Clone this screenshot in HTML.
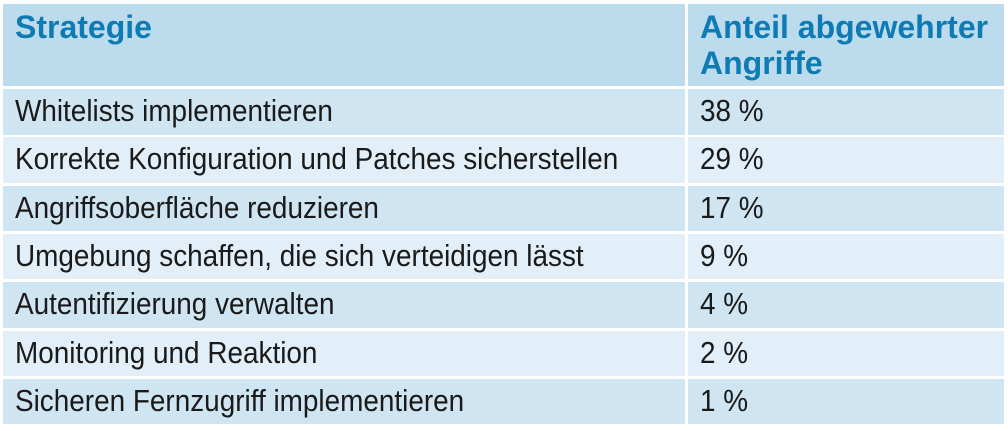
<!DOCTYPE html>
<html><head><meta charset="utf-8"><style>
body{margin:0;width:1008px;height:431px;background:#fff;position:relative;overflow:hidden;font-family:"Liberation Sans",sans-serif;}
.c{position:absolute;box-sizing:border-box;height:45.5px;}
.l{left:3px;width:682px;}
.r{left:688px;width:316px;}
.a{background:#cfe5f2}.b{background:#e2eff8}
.t{position:absolute;left:12px;top:4px;white-space:nowrap;font-size:31px;color:#1a1a1a;transform:scaleX(0.9);transform-origin:left center;}
.h{color:#0f7bb4;font-weight:bold;font-size:32px;line-height:36px;top:5px;transform:none;}
</style></head><body>
<div class="c l" style="top:4px;height:82px;background:#bcdcee"><div class="t h">Strategie</div></div>
<div class="c r" style="top:4px;height:82px;background:#bcdcee"><div class="t h">Anteil abgewehrter<br>Angriffe</div></div>

<div class="c l a" style="top:89px"><div class="t">Whitelists implementieren</div></div>
<div class="c r a" style="top:89px"><div class="t">38 %</div></div>
<div class="c l b" style="top:137.3px"><div class="t">Korrekte Konfiguration und Patches sicherstellen</div></div>
<div class="c r b" style="top:137.3px"><div class="t">29 %</div></div>
<div class="c l a" style="top:185.6px"><div class="t">Angriffsoberfläche reduzieren</div></div>
<div class="c r a" style="top:185.6px"><div class="t">17 %</div></div>
<div class="c l b" style="top:233.9px"><div class="t">Umgebung schaffen, die sich verteidigen lässt</div></div>
<div class="c r b" style="top:233.9px"><div class="t">9 %</div></div>
<div class="c l a" style="top:282.2px"><div class="t">Autentifizierung verwalten</div></div>
<div class="c r a" style="top:282.2px"><div class="t">4 %</div></div>
<div class="c l b" style="top:330.5px"><div class="t">Monitoring und Reaktion</div></div>
<div class="c r b" style="top:330.5px"><div class="t">2 %</div></div>
<div class="c l a" style="top:378.8px"><div class="t">Sicheren Fernzugriff implementieren</div></div>
<div class="c r a" style="top:378.8px"><div class="t">1 %</div></div>
</body></html>
